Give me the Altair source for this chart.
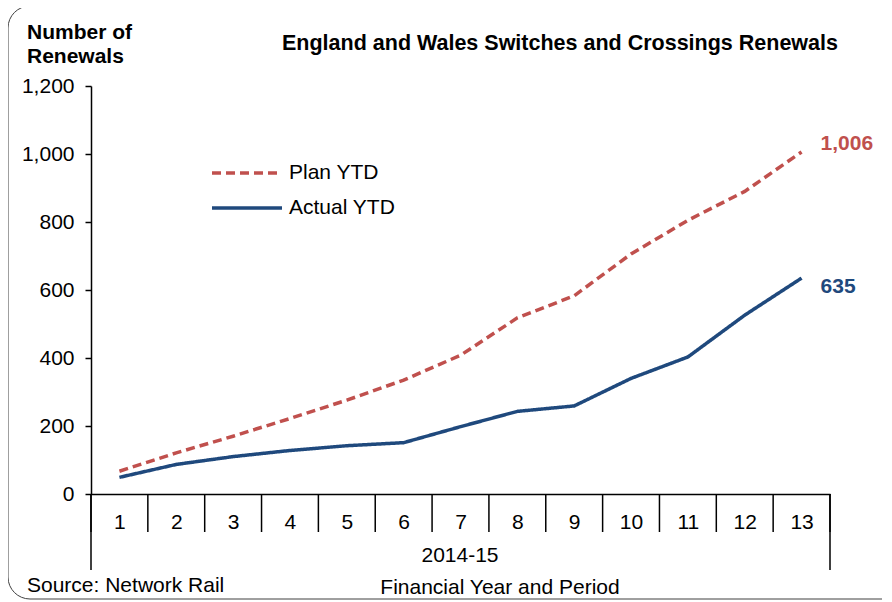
import altair as alt
import pandas as pd

periods = list(range(1, 14))
plan_ytd = [67, 121, 170, 222, 276, 335, 408, 518, 583, 706, 805, 890, 1006]
actual_ytd = [49, 87, 110, 128, 142, 151, 198, 243, 259, 340, 403, 526, 635]
series_names = ["Plan YTD", "Actual YTD"]
y_ticks = [0, 200, 400, 600, 800, 1000, 1200]
boundaries = [p + 0.5 for p in range(0, 14)]

RED = "#C0504D"
BLUE = "#1F497D"
FONT = "Liberation Sans"
FS = 21

df = pd.DataFrame({
    "period": periods * 2,
    "value": plan_ytd + actual_ytd,
    "series": [series_names[0]] * 13 + [series_names[1]] * 13,
})
last = df[df["period"] == 13].copy()
bdf = pd.DataFrame({"b": boundaries})
edge_df = pd.DataFrame({"b": [boundaries[0], boundaries[-1]]})

W, H = 739, 408

xscale = alt.Scale(domain=[0.5, 13.5], nice=False, zero=False)
yscale = alt.Scale(domain=[0, 1200], nice=False)

xenc = alt.X("period:Q", scale=xscale,
             axis=alt.Axis(values=periods, format=".0f", ticks=False, tickSize=0, grid=False,
                           title=None, labelFontSize=FS, labelPadding=17,
                           labelColor="black", domainColor="black", domainWidth=1.5,
                           labelFont=FONT))
yenc = alt.Y("value:Q", scale=yscale,
             axis=alt.Axis(values=y_ticks, format=",.0f", grid=False, title=None,
                           tickSize=6, tickColor="black", tickWidth=1.5,
                           labelFontSize=FS, labelPadding=11, labelColor="black",
                           domainColor="black", domainWidth=1.5, labelFont=FONT))

colscale = alt.Scale(domain=series_names, range=[RED, BLUE])
dashscale = alt.Scale(domain=series_names, range=[[9, 5], [1, 0]])

border = alt.Chart(pd.DataFrame({"a": [0]})).mark_rect(
    fillOpacity=0, stroke="#404040", strokeWidth=1, cornerRadius=22
).encode(x=alt.value(-83), x2=alt.value(830), y=alt.value(-80), y2=alt.value(513))

lines = alt.Chart(df).mark_line(strokeWidth=3.5).encode(
    x=xenc, y=yenc,
    color=alt.Color("series:N", scale=colscale, legend=None),
    strokeDash=alt.StrokeDash("series:N", scale=dashscale, legend=None),
)

end_plan = alt.Chart(last[last["series"] == "Plan YTD"]).mark_text(
    align="left", baseline="middle", dx=19, dy=-8, fontSize=FS, fontWeight="bold",
    font=FONT, color=RED
).encode(x=alt.X("period:Q", scale=xscale), y=alt.Y("value:Q", scale=yscale),
         text=alt.Text("value:Q", format=",.0f"))
end_act = alt.Chart(last[last["series"] == "Actual YTD"]).mark_text(
    align="left", baseline="middle", dx=19, dy=9, fontSize=FS, fontWeight="bold",
    font=FONT, color=BLUE
).encode(x=alt.X("period:Q", scale=xscale), y=alt.Y("value:Q", scale=yscale),
         text=alt.Text("value:Q", format=",.0f"))

ticks = alt.Chart(bdf).mark_rule(color="black", strokeWidth=1.5).encode(
    x=alt.X("b:Q", scale=xscale), y=alt.value(H), y2=alt.value(H + 38))
edges = alt.Chart(edge_df).mark_rule(color="black", strokeWidth=1.5).encode(
    x=alt.X("b:Q", scale=xscale), y=alt.value(H), y2=alt.value(H + 76))

def txt(s, x, y, size=FS, bold=False, align="left", color="black"):
    return alt.Chart(pd.DataFrame({"t": [s]})).mark_text(
        align=align, baseline="middle", fontSize=size,
        fontWeight="bold" if bold else "normal", font=FONT, color=color
    ).encode(text="t:N", x=alt.value(x), y=alt.value(y))

leg_plan = alt.Chart(pd.DataFrame({"a": [0]})).mark_rule(
    color=RED, strokeWidth=3.5, strokeDash=[9, 5]
).encode(x=alt.value(121), x2=alt.value(191), y=alt.value(87))
leg_act = alt.Chart(pd.DataFrame({"a": [0]})).mark_rule(
    color=BLUE, strokeWidth=3.5
).encode(x=alt.value(121), x2=alt.value(191), y=alt.value(122))

chart = alt.layer(
    border,
    lines,
    ticks,
    edges,
    end_plan,
    end_act,
    leg_plan,
    leg_act,
    txt(series_names[0], 198, 87),
    txt(series_names[1], 198, 122),
    txt("England and Wales Switches and Crossings Renewals", 469, -42, size=21.5, bold=True, align="center"),
    txt("Number of", -64, -53, bold=True),
    txt("Renewals", -64, -29, bold=True),
    txt("2014-15", 369, 470, align="center"),
    txt("Financial Year and Period", 409, 502, align="center"),
    txt("Source: Network Rail", -64, 500),
).properties(
    width=W, height=H,
    autosize=alt.AutoSizeParams(type="none"),
    padding={"left": 83, "top": 78, "right": 52, "bottom": 107},
).configure_view(stroke=None)

chart.save("out.html", embed_options={"renderer": "svg", "actions": False})
